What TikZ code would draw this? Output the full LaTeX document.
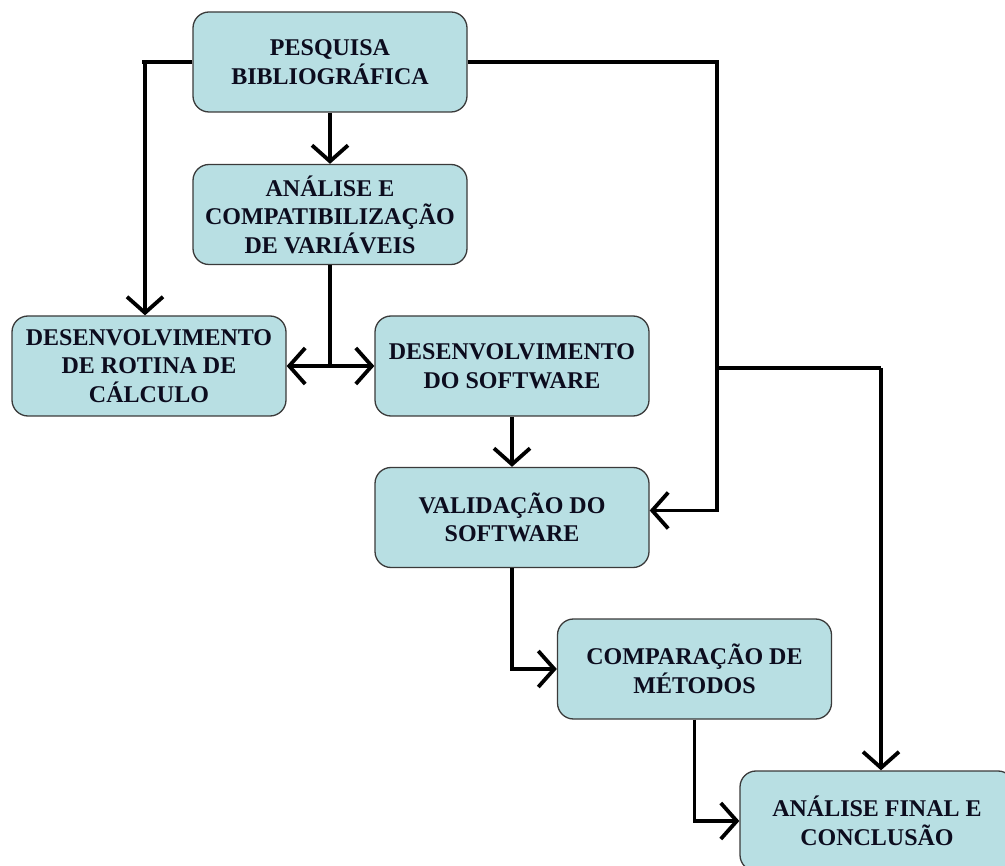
\documentclass[tikz,border=0pt]{standalone}
\usepackage{fontspec}
\setmainfont{Liberation Serif}
\usetikzlibrary{arrows.meta,calc}
\definecolor{boxfill}{HTML}{B8DFE3}
\definecolor{boxline}{HTML}{3A3A3A}
\definecolor{txt}{HTML}{0C0C1E}
\begin{document}
\begin{tikzpicture}[x=1pt,y=-1pt,
  box/.style={draw=boxline,line width=1.3pt,fill=boxfill,rounded corners=16pt,
    minimum width=274pt,minimum height=100pt,inner sep=0pt,align=center,
    font=\fontsize{24}{28.5}\selectfont\bfseries,text=txt},
  link/.style={draw=black,line width=3.8pt},
  arr/.style={link,-{Straight Barb[length=16pt,width=36pt,line width=3.8pt]}}]
\clip (0,0) rectangle (1005,866);
\useasboundingbox (0,0) rectangle (1005,866);
\node[box] (b1) at (330,62) {PESQUISA\\BIBLIOGRÁFICA};
\node[box] (b2) at (330,214.5) {ANÁLISE E\\COMPATIBILIZAÇÃO\\DE VARIÁVEIS};
\node[box] (b3) at (149,366) {DESENVOLVIMENTO\\DE ROTINA DE\\CÁLCULO};
\node[box] (b4) at (512,366) {DESENVOLVIMENTO\\DO SOFTWARE};
\node[box] (b5) at (512,517.5) {VALIDAÇÃO DO\\SOFTWARE};
\node[box] (b6) at (694.5,669) {COMPARAÇÃO DE\\MÉTODOS};
\node[box] (b7) at (877,821) {ANÁLISE FINAL E\\CONCLUSÃO};
\coordinate (j) at (330,366);
\coordinate (v1) at (717,368);
\coordinate (v2) at (881,368);
\coordinate (lc) at (145,62);
\draw[link] (b1.west) -- ([xshift=-3pt]lc);
\draw[arr] (lc) -- (lc |- b3.north);
\draw[arr] (b1) -- (b2);
\draw[link] (b2.south) -- (j);
\draw[arr] (j) -- (b3.east);
\draw[arr] (j) -- (b4.west);
\draw[link] (b1.east) -| (v1) -- (v2);
\draw[arr] (v1) |- ($(b5.east)+(0,-7)$);
\draw[arr] (v2) -- (v2 |- b7.north);
\draw[arr] (b4) -- (b5);
\draw[arr] (b5.south) |- (b6.west);
\draw[arr] (b6.south) |- (b7.west);
\end{tikzpicture}
\end{document}
